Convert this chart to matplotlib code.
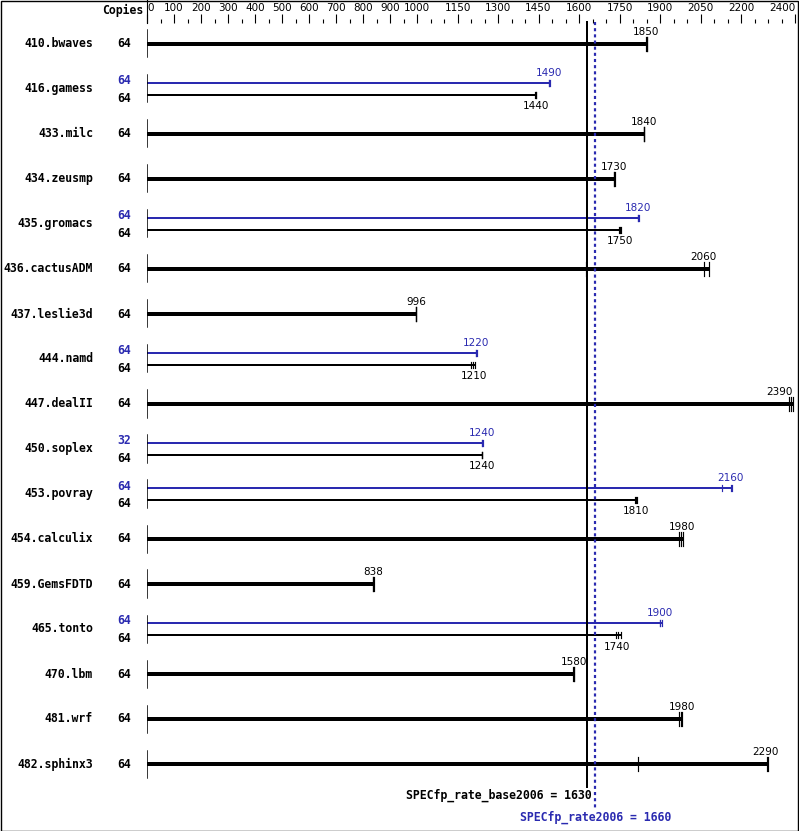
import matplotlib
matplotlib.use('Agg')
import matplotlib.pyplot as plt
from matplotlib.patches import Rectangle
import matplotlib.transforms as mtransforms

# ---------------- data ----------------
benchmarks = ["410.bwaves", "416.gamess", "433.milc", "434.zeusmp", "435.gromacs",
              "436.cactusADM", "437.leslie3d", "444.namd", "447.dealII", "450.soplex",
              "453.povray", "454.calculix", "459.GemsFDTD", "465.tonto", "470.lbm",
              "481.wrf", "482.sphinx3"]
base_values = [1850, 1440, 1840, 1730, 1750, 2060, 996, 1210, 2390, 1240,
               1810, 1980, 838, 1740, 1580, 1980, 2290]
peak_values = [None, 1490, None, None, 1820, None, None, 1220, None, 1240,
               2160, None, None, 1900, None, None, None]
base_copies = [64] * 17
peak_copies = [None, 64, None, None, 64, None, None, 64, None, 32,
               64, None, None, 64, None, None, None]
base_runs = [
    [1849, 1850, 1852],
    [1438, 1440, 1441],
    [1839, 1840, 1842],
    [1729, 1730, 1732],
    [1748, 1750, 1756],
    [1625, 2064, 2081],
    [995, 996, 998],
    [1199, 1206, 1214],
    [2378, 2385, 2393],
    [1239, 1240, 1242],
    [1806, 1810, 1813],
    [1971, 1977, 1984],
    [837, 838, 840],
    [1737, 1746, 1754],
    [1579, 1580, 1582],
    [1972, 1976, 1981],
    [1818, 2295, 2301],
]
peak_runs = [
    None,
    [1488, 1490, 1494],
    None, None,
    [1819, 1820, 1822],
    None, None,
    [1219, 1220, 1223],
    None,
    [1239, 1240, 1243],
    [2128, 2164, 2168],
    None, None,
    [1899, 1900, 1906],
    None, None, None,
]
tick_major = [0, 100, 200, 300, 400, 500, 600, 700, 800, 900, 1000,
              1150, 1300, 1450, 1600, 1750, 1900, 2050, 2200, 2400]
tick_minor = [v for v in range(0, 2401, 50) if v not in tick_major]
spec_base = 1630
spec_peak = 1660

# ---------------- style ----------------
W, H = 799, 831
BLUE = '#2a2ab0'
PX = 0.72  # points per pixel at 100 dpi
mono = 'DejaVu Sans Mono'
plain = 'DejaVu Sans'

fig = plt.figure(figsize=(W / 100, H / 100), dpi=100)
fig.patch.set_facecolor('white')
ax = fig.add_axes([147 / W, 0, 648 / W, (H - 23) / H])
row_px = 45.0
first_px = 44.0
ax.set_xlim(0, 2400)
ax.set_ylim((H - first_px) / row_px, (23 - first_px) / row_px)
for s in ax.spines.values():
    s.set_visible(False)
ax.set_yticks([])
ax.xaxis.tick_top()
ax.set_xticks(tick_major)
ax.set_xticklabels([str(v) for v in tick_major], fontfamily=plain, fontsize=7.5)
ax.set_xticks(tick_minor, minor=True)
ax.tick_params(axis='x', which='major', length=9 * PX, width=0.8, pad=1, direction='out')
ax.tick_params(axis='x', which='minor', length=4 * PX, width=0.8, direction='out')
lbls = ax.get_xticklabels()
lbls[0].set_ha('left')
lbls[-1].set_ha('right')

def rows(px):
    return px / row_px

top_data = (0 - first_px) / row_px
ax.plot([0, 0], [top_data, (23 - first_px) / row_px], color='k', lw=0.8, clip_on=False)

fig_x = mtransforms.blended_transform_factory(fig.transFigure, ax.transData)

ax.text(143 / W, (10 - first_px) / row_px, "Copies", transform=fig_x, ha='right', va='center',
        fontfamily=mono, fontweight='bold', fontsize=8.3)

def draw_bar(y, runs, value, color, lw, tick_half, label_dy):
    end = max(runs)
    ax.plot([0, end], [y, y], color=color, lw=lw, solid_capstyle='butt', zorder=3)
    for r in runs:
        ax.plot([r, r], [y - tick_half, y + tick_half], color=color, lw=0.85, zorder=3)
    ha = 'center'
    x = value
    if value > 2340:
        ha = 'right'
        x = end
    ax.annotate(str(value), (x, y), xytext=(0, label_dy * PX), textcoords='offset points',
                ha=ha, va='center', color=color, fontfamily=plain, fontsize=7.5,
                annotation_clip=False)

for i, name in enumerate(benchmarks):
    ax.plot([0, 0], [i - rows(13.5), i + rows(13.5)], color='k', lw=1.1, zorder=4)
    ax.text(93 / W, i, name, transform=fig_x, ha='right', va='center',
            fontfamily=mono, fontweight='bold', fontsize=8.3)
    if peak_values[i] is None:
        ax.text(124 / W, i, str(base_copies[i]), transform=fig_x, ha='center', va='center',
                fontfamily=mono, fontweight='bold', fontsize=8.3)
        draw_bar(i, base_runs[i], base_values[i], 'k', 4 * PX, rows(7), 12)
    else:
        yb = i - rows(6)
        yk = i + rows(6)
        ax.text(124 / W, i - rows(8), str(peak_copies[i]), transform=fig_x, ha='center',
                va='center', color=BLUE, fontfamily=mono, fontweight='bold', fontsize=8.3)
        ax.text(124 / W, i + rows(10), str(base_copies[i]), transform=fig_x, ha='center',
                va='center', color='k', fontfamily=mono, fontweight='bold', fontsize=8.3)
        draw_bar(yb, peak_runs[i], peak_values[i], BLUE, 2 * PX, rows(3), 10)
        draw_bar(yk, base_runs[i], base_values[i], 'k', 2 * PX, rows(3), -11.5)

# reference lines
ax.plot([spec_base, spec_base], [(22 - first_px) / row_px, (787 - first_px) / row_px],
        color='k', lw=2 * PX, clip_on=False, zorder=5)
ax.plot([spec_peak, spec_peak], [(22 - first_px) / row_px, (808 - first_px) / row_px],
        color=BLUE, lw=2.2 * PX, linestyle=(0, (1.4, 1.4)), dash_capstyle='butt',
        clip_on=False, zorder=5)
ax.text(spec_base + 18, (795 - first_px) / row_px, "SPECfp_rate_base2006 = %d" % spec_base,
        ha='right', va='center', fontfamily=mono, fontweight='bold', fontsize=8.3, color='k')
ax.text(spec_peak, (817 - first_px) / row_px, "SPECfp_rate2006 = %d" % spec_peak,
        ha='center', va='center', fontfamily=mono, fontweight='bold', fontsize=8.3, color=BLUE)

# frame
fig.patches.append(Rectangle((0.5 / W, 0.5 / H), (W - 1.5) / W, (H - 1.5) / H,
                             transform=fig.transFigure, fill=False, edgecolor='k', lw=1.0))

fig.savefig('out.png', dpi=100)
